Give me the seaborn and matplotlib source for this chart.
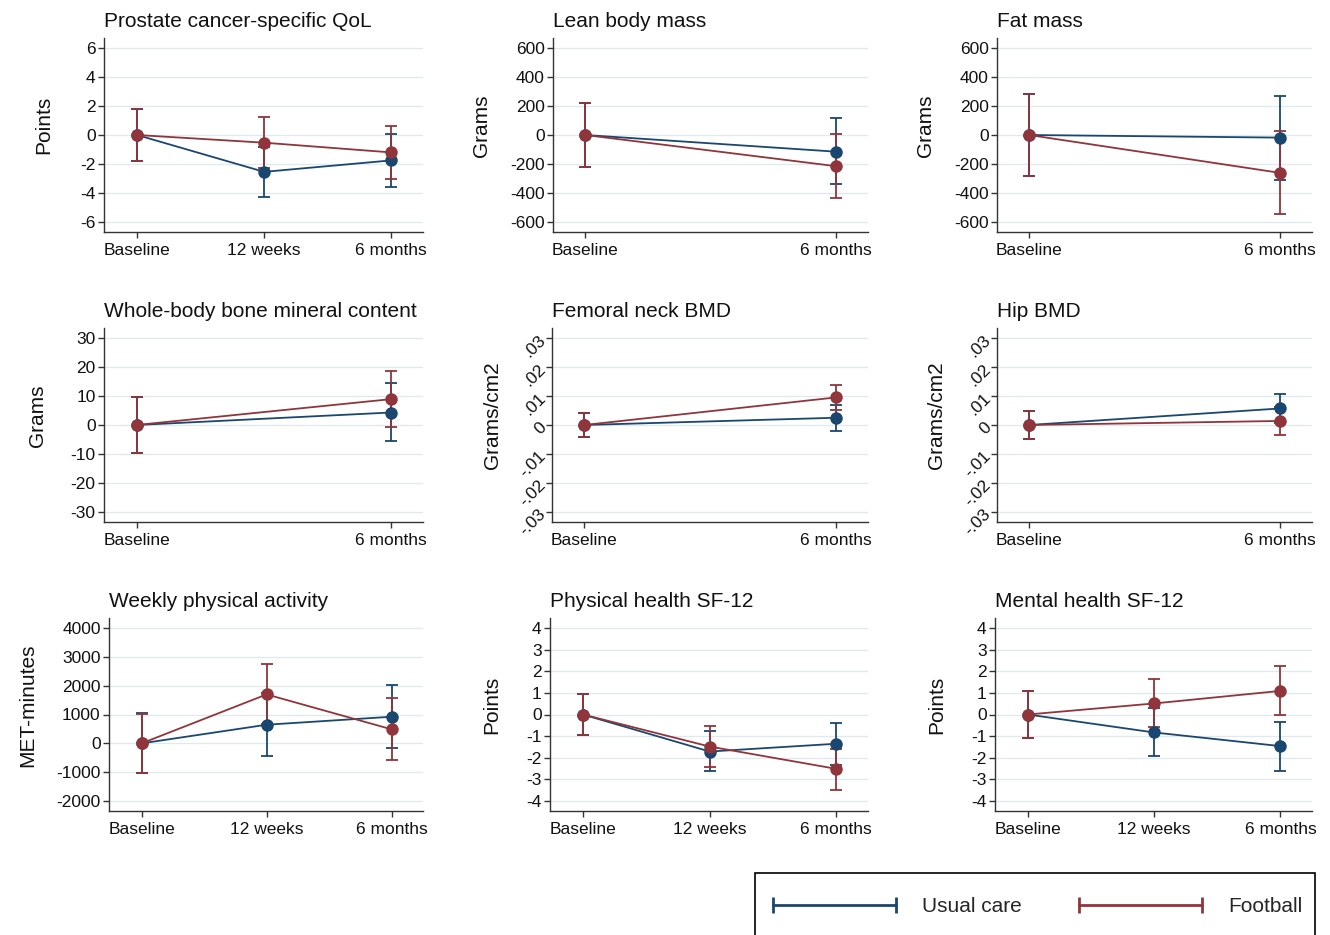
import numpy as np
import pandas as pd
import matplotlib
matplotlib.use("Agg")
import matplotlib.pyplot as plt
from matplotlib.lines import Line2D
from matplotlib.patches import Rectangle
import seaborn as sns

# time points
times3 = ["Baseline", "12 weeks", "6 months"]
times2 = ["Baseline", "6 months"]
groups = ["Usual care", "Football"]

# Prostate cancer-specific QoL (points)
qol_uc = [0, -2.54, -1.75]
qol_uc_lo = [-1.78, -4.27, -3.55]
qol_uc_hi = [1.78, -0.80, 0.07]
qol_fb = [0, -0.53, -1.20]
qol_fb_lo = [-1.76, -2.28, -3.00]
qol_fb_hi = [1.76, 1.22, 0.62]

# Lean body mass (grams)
lean_uc = [0, -115]
lean_uc_lo = [-219, -339]
lean_uc_hi = [219, 115]
lean_fb = [0, -215]
lean_fb_lo = [-219, -436]
lean_fb_hi = [219, 7]

# Fat mass (grams)
fat_uc = [0, -18]
fat_uc_lo = [-282, -312]
fat_uc_hi = [282, 270]
fat_fb = [0, -261]
fat_fb_lo = [-282, -542]
fat_fb_hi = [282, 25]

# Whole-body bone mineral content (grams)
bmc_uc = [0, 4.3]
bmc_uc_lo = [-9.6, -5.6]
bmc_uc_hi = [9.6, 14.3]
bmc_fb = [0, 8.9]
bmc_fb_lo = [-9.6, -0.8]
bmc_fb_hi = [9.6, 18.7]

# Femoral neck BMD (g/cm2)
fn_uc = [0, 0.0025]
fn_uc_lo = [-0.0042, -0.0019]
fn_uc_hi = [0.0042, 0.0068]
fn_fb = [0, 0.0095]
fn_fb_lo = [-0.0042, 0.0051]
fn_fb_hi = [0.0042, 0.0138]

# Hip BMD (g/cm2)
hip_uc = [0, 0.0057]
hip_uc_lo = [-0.0049, 0.0007]
hip_uc_hi = [0.0049, 0.0107]
hip_fb = [0, 0.0014]
hip_fb_lo = [-0.0049, -0.0035]
hip_fb_hi = [0.0049, 0.0063]

# Weekly physical activity (MET-minutes)
pa_uc = [0, 646, 923]
pa_uc_lo = [-1040, -438, -162]
pa_uc_hi = [1040, 1730, 2008]
pa_fb = [0, 1696, 485]
pa_fb_lo = [-1010, 657, -588]
pa_fb_hi = [1010, 2735, 1558]

# Physical health SF-12 (points)
pcs_uc = [0, -1.71, -1.35]
pcs_uc_lo = [-0.93, -2.63, -2.32]
pcs_uc_hi = [0.93, -0.74, -0.38]
pcs_fb = [0, -1.48, -2.51]
pcs_fb_lo = [-0.93, -2.43, -3.48]
pcs_fb_hi = [0.93, -0.54, -1.58]

# Mental health SF-12 (points)
mcs_uc = [0, -0.83, -1.46]
mcs_uc_lo = [-1.09, -1.92, -2.62]
mcs_uc_hi = [1.09, 0.28, -0.35]
mcs_fb = [0, 0.51, 1.09]
mcs_fb_lo = [-1.09, -0.58, -0.03]
mcs_fb_hi = [1.09, 1.62, 2.22]

# y ticks
ticks_qol = [-6, -4, -2, 0, 2, 4, 6]
ticks_grams = [-600, -400, -200, 0, 200, 400, 600]
ticks_bmc = [-30, -20, -10, 0, 10, 20, 30]
ticks_bmd = [-0.03, -0.02, -0.01, 0, 0.01, 0.02, 0.03]
labels_bmd = ["-.03", "-.02", "-.01", "0", ".01", ".02", ".03"]
ticks_pa = [-2000, -1000, 0, 1000, 2000, 3000, 4000]
ticks_sf = [-4, -3, -2, -1, 0, 1, 2, 3, 4]

colors = {"Usual care": "#1a476f", "Football": "#90353b"}

sns.set_theme(style="white")
plt.rcParams["font.family"] = ["Liberation Sans", "DejaVu Sans"]
plt.rcParams["axes.unicode_minus"] = False

W, H = 1330, 935
fig = plt.figure(figsize=(W / 100, H / 100), dpi=100)

# panel: title, ylabel, times, (uc, lo, hi), (fb, lo, hi), ticks, ticklabels, axes box in px, ylabel right edge px
panels = [
    ("Prostate cancer-specific QoL", "Points", times3,
     (qol_uc, qol_uc_lo, qol_uc_hi), (qol_fb, qol_fb_lo, qol_fb_hi),
     ticks_qol, None, (104, 38, 423, 232), 53),
    ("Lean body mass", "Grams", times2,
     (lean_uc, lean_uc_lo, lean_uc_hi), (lean_fb, lean_fb_lo, lean_fb_hi),
     ticks_grams, None, (553, 38, 868, 232), 491),
    ("Fat mass", "Grams", times2,
     (fat_uc, fat_uc_lo, fat_uc_hi), (fat_fb, fat_fb_lo, fat_fb_hi),
     ticks_grams, None, (997, 38, 1312, 232), 935),
    ("Whole-body bone mineral content", "Grams", times2,
     (bmc_uc, bmc_uc_lo, bmc_uc_hi), (bmc_fb, bmc_fb_lo, bmc_fb_hi),
     ticks_bmc, None, (104, 328, 423, 522), 47),
    ("Femoral neck BMD", "Grams/cm2", times2,
     (fn_uc, fn_uc_lo, fn_uc_hi), (fn_fb, fn_fb_lo, fn_fb_hi),
     ticks_bmd, labels_bmd, (552, 328, 868, 522), 502),
    ("Hip BMD", "Grams/cm2", times2,
     (hip_uc, hip_uc_lo, hip_uc_hi), (hip_fb, hip_fb_lo, hip_fb_hi),
     ticks_bmd, labels_bmd, (997, 328, 1312, 522), 946),
    ("Weekly physical activity", "MET-minutes", times3,
     (pa_uc, pa_uc_lo, pa_uc_hi), (pa_fb, pa_fb_lo, pa_fb_hi),
     ticks_pa, None, (109, 618, 423, 811), 37),
    ("Physical health SF-12", "Points", times3,
     (pcs_uc, pcs_uc_lo, pcs_uc_hi), (pcs_fb, pcs_fb_lo, pcs_fb_hi),
     ticks_sf, None, (550, 618, 868, 811), 501),
    ("Mental health SF-12", "Points", times3,
     (mcs_uc, mcs_uc_lo, mcs_uc_hi), (mcs_fb, mcs_fb_lo, mcs_fb_hi),
     ticks_sf, None, (995, 618, 1312, 811), 946),
]

for title, ylab, times, uc, fb, yticks, yticklabels, box, ylab_x in panels:
    x0, y0, x1, y1 = box
    ax = fig.add_axes([x0 / W, 1 - y1 / H, (x1 - x0) / W, (y1 - y0) / H])
    pos = np.arange(len(times))
    for grp, (mean, lo, hi) in zip(groups, [uc, fb]):
        mean = np.array(mean)
        lo = np.array(lo)
        hi = np.array(hi)
        ax.errorbar(pos, mean, yerr=[mean - lo, hi - mean], fmt="none",
                    ecolor=colors[grp], elinewidth=1.3, capsize=4, capthick=1.3, zorder=3)
        df = pd.DataFrame({"x": pos, "value": mean, "group": grp})
        sns.lineplot(data=df, x="x", y="value", color=colors[grp], marker="o",
                     markersize=9, markeredgewidth=0, linewidth=1.3, ax=ax,
                     legend=False, zorder=4)

    if len(times) == 3:
        ax.set_xlim(-0.26, 2.25)
    else:
        ax.set_xlim(-0.128, 1.127)
    ax.set_xticks(pos)
    ax.set_xticklabels(times, fontsize=12.5)
    rng = yticks[-1] - yticks[0]
    ax.set_ylim(yticks[0] - 0.057 * rng, yticks[-1] + 0.057 * rng)
    ax.set_yticks(yticks)
    if yticklabels is not None:
        ax.set_yticklabels(yticklabels, fontsize=12.5, rotation=45, ha="right",
                           va="center", rotation_mode="anchor")
    else:
        ax.set_yticklabels([str(t) for t in yticks], fontsize=12.5)

    ax.grid(axis="y", color="#dfe9ee", linewidth=0.9)
    ax.grid(axis="x", visible=False)
    for s in ["top", "right"]:
        ax.spines[s].set_visible(False)
    for s in ["left", "bottom"]:
        ax.spines[s].set_color("#333333")
        ax.spines[s].set_linewidth(1.0)
    ax.tick_params(axis="y", which="major", direction="out", length=4,
                   width=1.0, color="#333333", labelcolor="#111111", pad=2, left=True)
    ax.tick_params(axis="x", which="major", direction="out", length=4,
                   width=1.0, color="#333333", labelcolor="#111111", pad=4, bottom=True)

    ax.set_title(title, loc="left", fontsize=15, pad=8, color="#111111")
    ax.set_xlabel("")
    ax.set_ylabel(ylab, fontsize=15, color="#111111")
    ax.yaxis.set_label_coords((ylab_x - x0) / (x1 - x0), 0.55)

# legend: frame drawn as a box that runs off the bottom edge
fig.patches.append(Rectangle((755 / W, -0.05), (1315 - 755) / W, (1 - 873 / H) + 0.05,
                             transform=fig.transFigure, fill=False,
                             edgecolor="black", linewidth=1.2))
handles = [Line2D([0, 1], [0, 0], color=colors[g], linewidth=2, marker="|",
                  markersize=12, markeredgewidth=2) for g in groups]
leg = fig.legend(handles, groups, loc="center left", bbox_to_anchor=(767 / W, 1 - 907 / H),
                 ncol=2, fontsize=15, numpoints=2, handlelength=6.5, handletextpad=0.95,
                 columnspacing=2.45, borderpad=0, borderaxespad=0, frameon=False)

fig.savefig("out.png", dpi=100, facecolor="white")
